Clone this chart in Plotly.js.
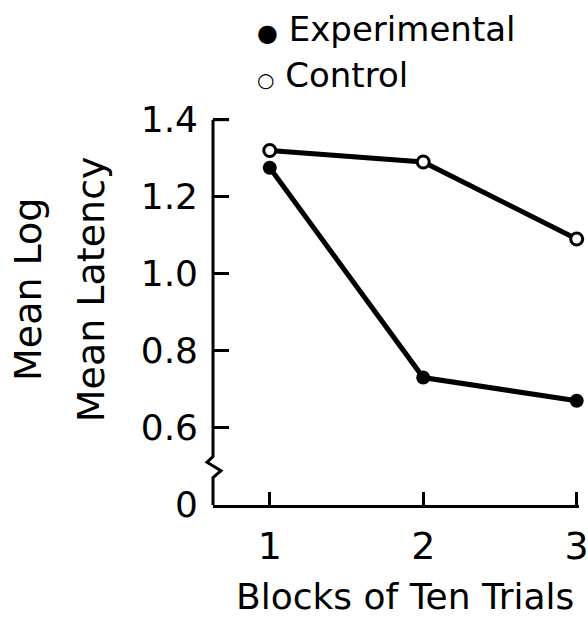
<!DOCTYPE html>
<html>
<head>
<meta charset="utf-8">
<script src="https://cdn.plot.ly/plotly-3.0.1.min.js"></script>
<style>html,body{margin:0;padding:0;background:#fff;}</style>
</head>
<body>
<div id="chart" style="width:588px;height:621px;"></div>
<script>
// Data
const blocks = [1, 2, 3];
const experimental = [1.275, 0.73, 0.67];
const control = [1.32, 1.29, 1.09];
const yTickVals = [0.4, 0.6, 0.8, 1.0, 1.2, 1.4];
const yTickText = ["0", "0.6", "0.8", "1.0", "1.2", "1.4"];
const xTickText = ["1", "2", "3"];

const FONT = "DejaVu Sans, sans-serif";

const traces = [
  {
    x: blocks, y: control, mode: "lines+markers", name: "Control",
    line: {color: "#000", width: 5},
    marker: {symbol: "circle", size: 12, color: "#fff", line: {color: "#000", width: 3}},
    cliponaxis: false
  },
  {
    x: blocks, y: experimental, mode: "lines+markers", name: "Experimental",
    line: {color: "#000", width: 5},
    marker: {symbol: "circle", size: 14, color: "#000"},
    cliponaxis: false
  }
];

const layout = {
  width: 588, height: 621,
  margin: {l: 213, r: 9, t: 112, b: 116},
  paper_bgcolor: "#fff", plot_bgcolor: "#fff",
  showlegend: false,
  font: {family: FONT, color: "#000"},
  xaxis: {
    range: [0.63, 3.015], tickvals: blocks, ticktext: xTickText,
    ticks: "inside", ticklen: 13, tickwidth: 3, tickcolor: "#000",
    showline: true, linewidth: 3, linecolor: "#000",
    showgrid: false, zeroline: false, ticklabeloverflow: "allow",
    tickfont: {size: 38, family: FONT}, ticklabelstandoff: 5
  },
  yaxis: {
    range: [0.399, 1.42], tickvals: yTickVals, ticktext: yTickText,
    ticks: "inside", ticklen: 16, tickwidth: 3, tickcolor: "#000",
    showline: false, showgrid: false, zeroline: false, ticklabeloverflow: "allow",
    tickfont: {size: 36, family: FONT}, ticklabelstandoff: 14
  },
  shapes: [
    {
      type: "path", xref: "paper", yref: "y",
      xsizemode: "pixel", xanchor: 0,
      path: "M0,1.4 L0,0.525 L-6,0.51 L8,0.488 L0,0.47 L0,0.399",
      line: {color: "#000", width: 3}
    },
    {
      type: "line", xref: "paper", yref: "y",
      x0: 0, x1: 0.044, y0: 1.4, y1: 1.4,
      line: {color: "#000", width: 3}
    }
  ],
  annotations: [
    {
      text: "Mean Log", textangle: -90,
      xref: "paper", yref: "paper", x: -0.505, y: 0.55,
      xanchor: "center", yanchor: "middle", showarrow: false,
      font: {size: 38, family: FONT}
    },
    {
      text: "Mean Latency", textangle: -90,
      xref: "paper", yref: "paper", x: -0.335, y: 0.55,
      xanchor: "center", yanchor: "middle", showarrow: false,
      font: {size: 38, family: FONT}
    },
    {
      text: "Blocks of Ten Trials",
      xref: "paper", yref: "paper", x: 0.525, y: -0.234,
      xanchor: "center", yanchor: "middle", showarrow: false,
      font: {size: 36, family: FONT}
    },
    {
      text: "<span style='font-size:24px'>●</span> Experimental",
      xref: "paper", yref: "paper", x: 0.115, y: 1.21,
      xanchor: "left", yanchor: "middle", showarrow: false,
      font: {size: 34, family: FONT}
    },
    {
      text: "<span style='font-size:20px'>○</span> Control",
      xref: "paper", yref: "paper", x: 0.115, y: 1.095,
      xanchor: "left", yanchor: "middle", showarrow: false,
      font: {size: 34, family: FONT}
    }
  ]
};

Plotly.newPlot("chart", traces, layout, {displayModeBar: false, staticPlot: true});
</script>
</body>
</html>
